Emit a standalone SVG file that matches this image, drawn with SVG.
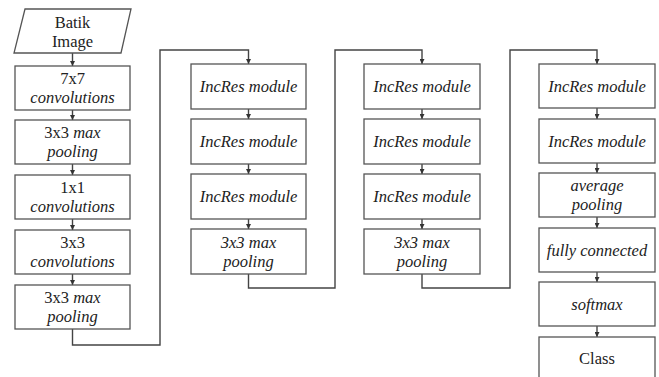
<svg xmlns="http://www.w3.org/2000/svg" width="659" height="377" viewBox="0 0 659 377">
<defs>
<marker id="ah" viewBox="0 0 6 6" refX="6" refY="3" markerWidth="5" markerHeight="5" markerUnits="userSpaceOnUse" orient="auto">
<path d="M0,0 L6,3 L0,6 Z" fill="#333"/>
</marker>
<style>
.box{fill:#fff;stroke:#555;stroke-width:1.3}
.t{font-family:"Times New Roman",Times,"Liberation Serif","Nimbus Roman","Noto Serif","DejaVu Serif",FreeSerif,serif;font-size:16.5px;fill:#222;text-anchor:middle}
.i{font-style:italic}
.c{fill:none;stroke:#444;stroke-width:1.4}
</style>
</defs>
<rect width="659" height="377" fill="#fff"/>
<g id="connectors">
<path class="c" d="M72.5,53 V66" marker-end="url(#ah)"/>
<path class="c" d="M72.5,110 V120" marker-end="url(#ah)"/>
<path class="c" d="M72.5,164 V175" marker-end="url(#ah)"/>
<path class="c" d="M72.5,219 V230" marker-end="url(#ah)"/>
<path class="c" d="M72.5,274 V285" marker-end="url(#ah)"/>
<path class="c" d="M72.5,329 V345 H160 V50 H248.5 V64" marker-end="url(#ah)"/>
<path class="c" d="M248.5,109 V119" marker-end="url(#ah)"/>
<path class="c" d="M248.5,164 V174" marker-end="url(#ah)"/>
<path class="c" d="M248.5,219 V229" marker-end="url(#ah)"/>
<path class="c" d="M248.5,274 V288 H335 V50 H422 V64" marker-end="url(#ah)"/>
<path class="c" d="M422,109 V119" marker-end="url(#ah)"/>
<path class="c" d="M422,164 V174" marker-end="url(#ah)"/>
<path class="c" d="M422,219 V229" marker-end="url(#ah)"/>
<path class="c" d="M422,274 V288 H510 V50 H597 V64" marker-end="url(#ah)"/>
<path class="c" d="M597,108 V119" marker-end="url(#ah)"/>
<path class="c" d="M597,163 V173" marker-end="url(#ah)"/>
<path class="c" d="M597,217 V228" marker-end="url(#ah)"/>
<path class="c" d="M597,272 V282" marker-end="url(#ah)"/>
<path class="c" d="M597,326 V337" marker-end="url(#ah)"/>
</g>
<g id="batik-image">
<polygon class="box" points="25,9 131,9 121,53 14,53"/>
<text class="t" x="72.5" y="28">Batik</text>
<text class="t" x="72.5" y="47">Image</text>
</g>
<g id="conv7x7">
<rect class="box" x="15" y="66" width="115" height="44"/>
<text class="t" x="72.5" y="84">7x7</text>
<text class="t i" x="72.5" y="103">convolutions</text>
</g>
<g id="maxpool1">
<rect class="box" x="15" y="120" width="115" height="44"/>
<text class="t" x="72.5" y="138">3x3 <tspan class="i">max</tspan></text>
<text class="t i" x="72.5" y="157">pooling</text>
</g>
<g id="conv1x1">
<rect class="box" x="15" y="175" width="115" height="44"/>
<text class="t" x="72.5" y="193">1x1</text>
<text class="t i" x="72.5" y="212">convolutions</text>
</g>
<g id="conv3x3">
<rect class="box" x="15" y="230" width="115" height="44"/>
<text class="t" x="72.5" y="248">3x3</text>
<text class="t i" x="72.5" y="267">convolutions</text>
</g>
<g id="maxpool2">
<rect class="box" x="15" y="285" width="115" height="44"/>
<text class="t" x="72.5" y="303">3x3 <tspan class="i">max</tspan></text>
<text class="t i" x="72.5" y="322">pooling</text>
</g>
<g id="incres-a1">
<rect class="box" x="191" y="64" width="115" height="45"/>
<text class="t i" x="248.5" y="92">IncRes module</text>
</g>
<g id="incres-a2">
<rect class="box" x="191" y="119" width="115" height="45"/>
<text class="t i" x="248.5" y="147">IncRes module</text>
</g>
<g id="incres-a3">
<rect class="box" x="191" y="174" width="115" height="45"/>
<text class="t i" x="248.5" y="202">IncRes module</text>
</g>
<g id="maxpool3">
<rect class="box" x="191" y="229" width="115" height="45"/>
<text class="t i" x="248.5" y="248">3x3 max</text>
<text class="t i" x="248.5" y="267">pooling</text>
</g>
<g id="incres-b1">
<rect class="box" x="364" y="64" width="116" height="45"/>
<text class="t i" x="422" y="92">IncRes module</text>
</g>
<g id="incres-b2">
<rect class="box" x="364" y="119" width="116" height="45"/>
<text class="t i" x="422" y="147">IncRes module</text>
</g>
<g id="incres-b3">
<rect class="box" x="364" y="174" width="116" height="45"/>
<text class="t i" x="422" y="202">IncRes module</text>
</g>
<g id="maxpool4">
<rect class="box" x="364" y="229" width="116" height="45"/>
<text class="t i" x="422" y="248">3x3 max</text>
<text class="t i" x="422" y="267">pooling</text>
</g>
<g id="incres-c1">
<rect class="box" x="539" y="64" width="116" height="44"/>
<text class="t i" x="597" y="92">IncRes module</text>
</g>
<g id="incres-c2">
<rect class="box" x="539" y="119" width="116" height="44"/>
<text class="t i" x="597" y="147">IncRes module</text>
</g>
<g id="avgpool">
<rect class="box" x="539" y="173" width="116" height="44"/>
<text class="t i" x="597" y="191">average</text>
<text class="t i" x="597" y="210">pooling</text>
</g>
<g id="fc">
<rect class="box" x="539" y="228" width="116" height="44"/>
<text class="t i" x="597" y="256">fully connected</text>
</g>
<g id="softmax">
<rect class="box" x="539" y="282" width="116" height="44"/>
<text class="t i" x="597" y="310">softmax</text>
</g>
<g id="class">
<rect class="box" x="539" y="337" width="116" height="45"/>
<text class="t" x="597" y="364">Class</text>
</g>
</svg>
